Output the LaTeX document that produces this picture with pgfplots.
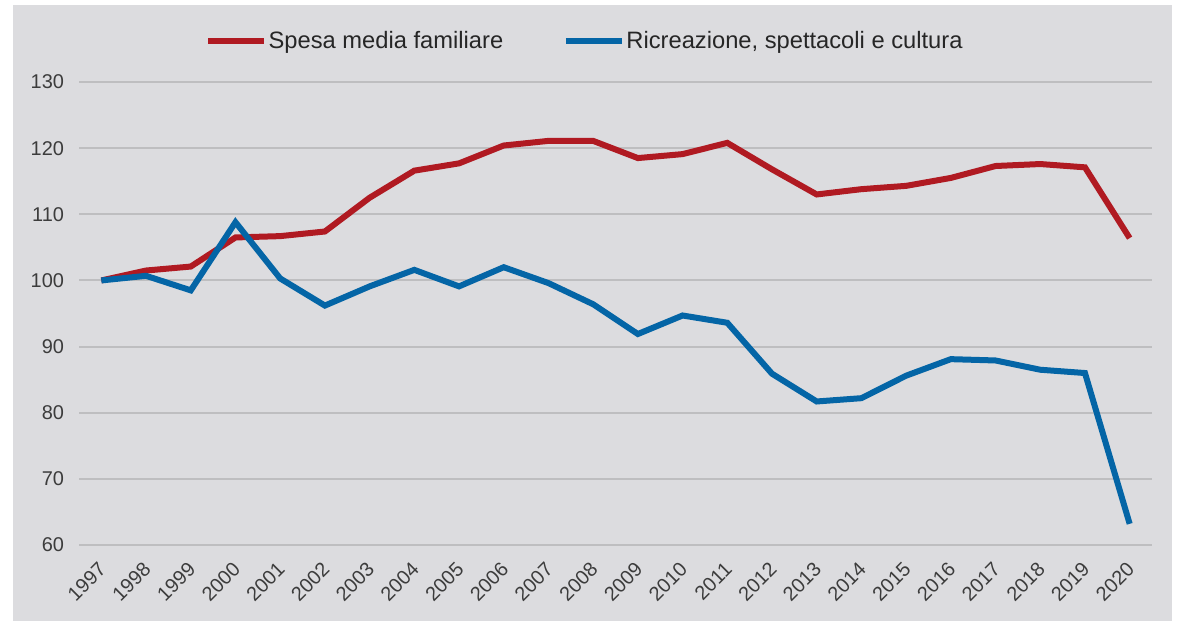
\documentclass[border=0pt]{standalone}
\usepackage{pgfplots}
\pgfplotsset{compat=1.18}
\usepackage{fontspec}
\setmainfont{Liberation Sans}
\definecolor{bg}{RGB}{220,220,223}
\definecolor{gridc}{RGB}{190,190,192}
\definecolor{redl}{RGB}{176,26,34}
\definecolor{bluel}{RGB}{4,101,166}
\definecolor{txt}{RGB}{60,60,60}
\begin{document}
\begin{tikzpicture}[x=1bp,y=1bp]
\useasboundingbox (0,0) rectangle (589,310.5);
\fill[white] (0,0) rectangle (589,310.5);
\fill[bg] (6.5,0) rectangle (586,308);
\begin{axis}[
  at={(39.5bp,38bp)}, anchor=south west,
  scale only axis, width=536.5bp, height=231.5bp,
  xmin=-0.5, xmax=23.5, ymin=60, ymax=130,
  ytick={60,70,...,130},
  xtick={0,...,23},
  xticklabels={1997,1998,1999,2000,2001,2002,2003,2004,2005,2006,2007,2008,2009,2010,2011,2012,2013,2014,2015,2016,2017,2018,2019,2020},
  ymajorgrids, major grid style={gridc, line width=1bp},
  tick style={draw=none},
  /pgf/number format/assume math mode=true,
  ticklabel style={font=\fontsize{10}{11}\selectfont, text=txt},
  yticklabel style={anchor=east, xshift=-4bp},
  xticklabel style={xshift=3bp, yshift=-8bp, anchor=east, rotate=45},
  x axis line style={draw=none}, y axis line style={draw=none},
  axis x line*=bottom, axis y line*=left,
  clip=false,
  legend columns=2,
  legend style={at={(0.1175,1.0886)}, anchor=west, draw=none, fill=none,
    inner sep=0pt, outer sep=0pt,
    font=\fontsize{11.9}{13}\selectfont, text=black!85,
    nodes={inner sep=0.8bp},
    /tikz/every even column/.append style={column sep=29bp}},
  legend image code/.code={\draw[#1] (0bp,0bp) -- (28bp,0bp);},
]
\addplot[redl, line width=3bp] coordinates {
(0,100) (1,101.5) (2,102.1) (3,106.5) (4,106.7) (5,107.4) (6,112.5) (7,116.6)
(8,117.7) (9,120.4) (10,121.1) (11,121.1) (12,118.5) (13,119.1) (14,120.8)
(15,116.8) (16,113.0) (17,113.8) (18,114.3) (19,115.5) (20,117.3) (21,117.6)
(22,117.1) (23,106.4)};
\addlegendentry{Spesa media familiare}
\addplot[bluel, line width=3bp] coordinates {
(0,100) (1,100.7) (2,98.5) (3,108.8) (4,100.3) (5,96.2) (6,99.1) (7,101.6)
(8,99.1) (9,102.0) (10,99.6) (11,96.4) (12,91.9) (13,94.7) (14,93.6)
(15,85.9) (16,81.7) (17,82.2) (18,85.6) (19,88.1) (20,87.9) (21,86.5)
(22,86.0) (23,63.2)};
\addlegendentry{Ricreazione, spettacoli e cultura}
\end{axis}
\end{tikzpicture}
\end{document}
